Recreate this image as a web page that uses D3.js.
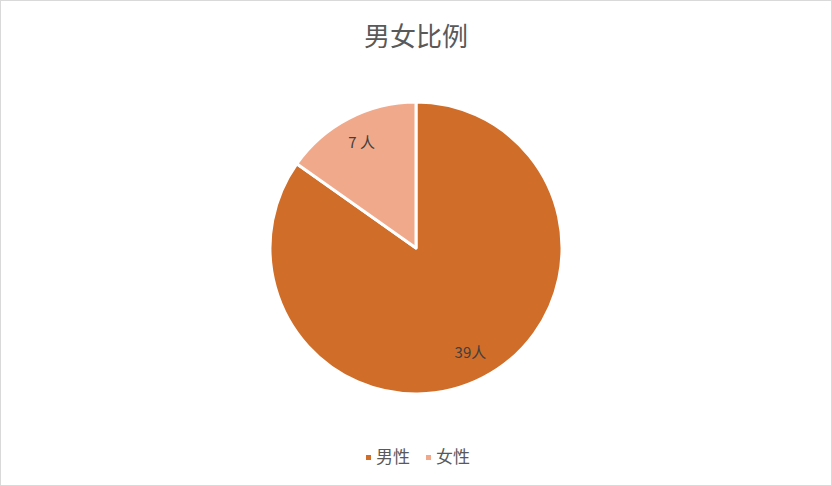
<!DOCTYPE html>
<html>
<head>
<meta charset="utf-8">
<script src="https://cdn.jsdelivr.net/npm/d3@7"></script>
<style>
  html, body { margin: 0; padding: 0; background: #fff; }
  svg { display: block; font-family: "Noto Sans CJK SC", "Noto Sans", sans-serif; }
</style>
</head>
<body>
<svg id="chart" width="832" height="486"></svg>
<script>
const title = '男女比例';
const categories = ['男性', '女性'];
const counts = [39, 7];
const labels = ['39人', '7 人'];
const colors = ['#D06D29', '#F0A98B'];

const width = 832, height = 486;
const cx = 416, cy = 248, radius = 146;

const svg = d3.select('#chart');

// outer frame
svg.append('rect')
    .attr('x', 0.5).attr('y', 0.5)
    .attr('width', width - 1).attr('height', height - 1)
    .attr('fill', '#fff')
    .attr('stroke', '#d9d9d9');

svg.append('text')
    .attr('x', cx).attr('y', 46)
    .attr('text-anchor', 'middle')
    .attr('font-size', 26)
    .attr('fill', '#595959')
    .text(title);

const pie = d3.pie().sort(null).value(d => d);
const arcs = pie(counts);
const arc = d3.arc().innerRadius(0).outerRadius(radius);
const labelArc = d3.arc().innerRadius(radius * 0.81).outerRadius(radius * 0.81);

const g = svg.append('g').attr('transform', 'translate(' + cx + ',' + cy + ')');

g.selectAll('.slice')
    .data(arcs)
    .enter()
    .append('path')
    .attr('class', 'slice')
    .attr('d', arc)
    .attr('fill', (d, i) => colors[i])
    .attr('stroke', '#fff')
    .attr('stroke-width', 3)
    .attr('stroke-linejoin', 'round');

g.selectAll('.lbl')
    .data(arcs)
    .enter()
    .append('text')
    .attr('class', 'lbl')
    .attr('transform', d => 'translate(' + labelArc.centroid(d) + ')')
    .attr('text-anchor', 'middle')
    .attr('dy', '0.35em')
    .attr('font-size', 15)
    .attr('fill', '#404040')
    .text((d, i) => labels[i]);

// legend
const legendX = [366, 426];
const legend = svg.append('g');
categories.forEach((c, i) => {
    legend.append('rect')
        .attr('x', legendX[i]).attr('y', 455)
        .attr('width', 5).attr('height', 5)
        .attr('fill', colors[i]);
    legend.append('text')
        .attr('x', legendX[i] + 10).attr('y', 457.5)
        .attr('dy', '0.35em')
        .attr('font-size', 17)
        .attr('fill', '#595959')
        .text(c);
});
</script>
</body>
</html>
